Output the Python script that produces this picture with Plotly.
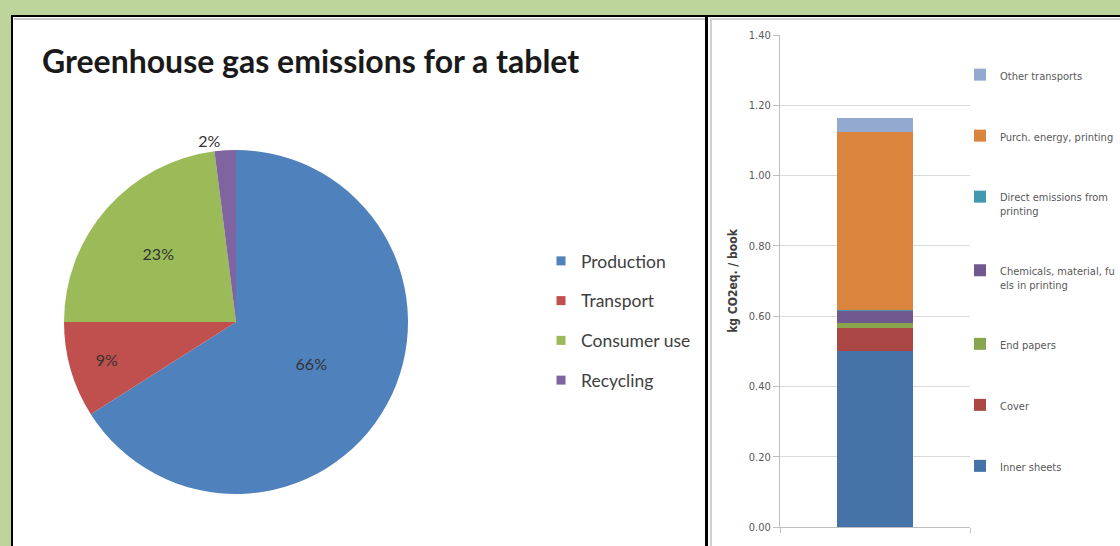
import plotly.graph_objects as go

# ---- data ----
pie_labels = ["Production", "Transport", "Consumer use", "Recycling"]
pie_values = [66, 9, 23, 2]
pie_colors = ["#4F81BD", "#C0504D", "#9BBB59", "#8064A2"]
pie_textpos = ["inside", "inside", "inside", "outside"]

bar_category = ["book"]
bar_series = ["Inner sheets", "Cover", "End papers", "Chemicals, material, fu<br>els in printing",
              "Direct emissions from<br>printing", "Purch. energy, printing", "Other transports"]
bar_values = [0.50, 0.065, 0.016, 0.035, 0.002, 0.506, 0.039]
bar_colors = ["#4572A7", "#AA4643", "#89A54E", "#71588F", "#4198AF", "#DB843D", "#93A9CF"]

y_ticks = [0.0, 0.2, 0.4, 0.6, 0.8, 1.0, 1.2, 1.4]

W, H = 1120, 546
def px(x):
    return x / W
def py(y):
    return 1 - y / H

NARROW = "Liberation Sans Narrow, DejaVu Sans Condensed, Arial Narrow, sans-serif"
CAL = "Lato, Carlito, Calibri, sans-serif"

fig = go.Figure()

R = 172
CX, CY = 236, 322
fig.add_trace(go.Pie(
    labels=pie_labels, values=pie_values, sort=False, direction="clockwise", rotation=0,
    marker=dict(colors=pie_colors, line=dict(width=0)),
    texttemplate="%{percent:.0%}", textposition=pie_textpos,
    insidetextorientation="horizontal",
    textfont=dict(family=CAL, size=16, color="#333333"),
    domain=dict(x=[px(CX - R), px(CX + R)], y=[py(CY + R), py(CY - R)]),
    showlegend=False, hoverinfo="label+percent",
))

# legend entries for the pie slices (spaced like the original legend)
for lab, col in zip(pie_labels, pie_colors):
    fig.add_trace(go.Scatter(
        x=[None], y=[None], mode="markers", name=lab, legendgroup=lab,
        marker=dict(symbol="square", size=9, color=col), legend="legend",
        hoverinfo="skip", xaxis="x2", yaxis="y2",
    ))

n = len(bar_series)
for i, (name, val, col) in enumerate(zip(bar_series, bar_values, bar_colors)):
    fig.add_trace(go.Bar(
        x=bar_category, y=[val], name=name, legendgroup=name, legendrank=n - i,
        marker=dict(color=col, line=dict(width=0)), legend="legend2",
    ))

shapes = [
    # left panel
    dict(type="rect", xref="paper", yref="paper", x0=px(12), x1=px(706), y0=py(560), y1=py(16),
         fillcolor="white", line=dict(color="black", width=2), layer="below"),
    dict(type="line", xref="paper", yref="paper", x0=px(14), x1=px(705), y0=py(19), y1=py(19),
         line=dict(color="#c8c8c8", width=2), layer="below"),
    # right panel
    dict(type="rect", xref="paper", yref="paper", x0=px(707), x1=px(1135), y0=py(560), y1=py(16),
         fillcolor="white", line=dict(color="black", width=2), layer="below"),
    dict(type="line", xref="paper", yref="paper", x0=px(710), x1=px(1125), y0=py(19), y1=py(19),
         line=dict(color="#d0d0d0", width=2), layer="below"),
    dict(type="line", xref="paper", yref="paper", x0=px(711), x1=px(711), y0=py(560), y1=py(19),
         line=dict(color="#d0d0d0", width=2), layer="below"),
]

fig.update_layout(
    width=W, height=H, margin=dict(l=0, r=0, t=0, b=0, autoexpand=False),
    paper_bgcolor="#BDD49B", plot_bgcolor="rgba(0,0,0,0)",
    shapes=shapes, barmode="stack", bargap=0.6,
    title=dict(text="<b>Greenhouse gas emissions for a tablet</b>", x=px(42), xanchor="left",
               y=py(62), yanchor="middle", xref="paper", yref="container",
               font=dict(family=CAL, size=32, color="#1a1a1a")),
    legend=dict(x=px(541), y=py(243), xanchor="left", yanchor="top",
                traceorder="grouped", tracegroupgap=14,
                font=dict(family=CAL, size=17.5, color="#404040"), bgcolor="rgba(0,0,0,0)"),
    legend2=dict(x=px(960), y=py(61), xanchor="left", yanchor="top",
                 traceorder="grouped", tracegroupgap=42, valign="top",
                 font=dict(family=NARROW, size=11, color="#595959"), bgcolor="rgba(0,0,0,0)"),
    xaxis=dict(domain=[px(780), px(970)], showticklabels=False, showline=True, linecolor="#bfbfbf",
               ticks="outside", tickson="boundaries", ticklen=5, tickcolor="#bfbfbf",
               showgrid=False, zeroline=False),
    yaxis=dict(domain=[py(527), py(35)], range=[0, 1.4], tickvals=y_ticks, tickformat=".2f",
               showgrid=True, gridcolor="#d9d9d9", showline=True, linecolor="#bfbfbf",
               ticks="outside", ticklen=6, tickcolor="#bfbfbf", zeroline=False,
               tickfont=dict(family=NARROW, size=11, color="#595959"),
               title=dict(text="<b>kg CO2eq. / book</b>", standoff=8,
                          font=dict(family=NARROW, size=12, color="#404040"))),
    xaxis2=dict(visible=False, domain=[0, 0.01], anchor="y2"),
    yaxis2=dict(visible=False, domain=[0, 0.01], anchor="x2"),
)

fig.write_html("out.html", config={"displayModeBar": False},
               post_script="document.body.style.margin='0';")
